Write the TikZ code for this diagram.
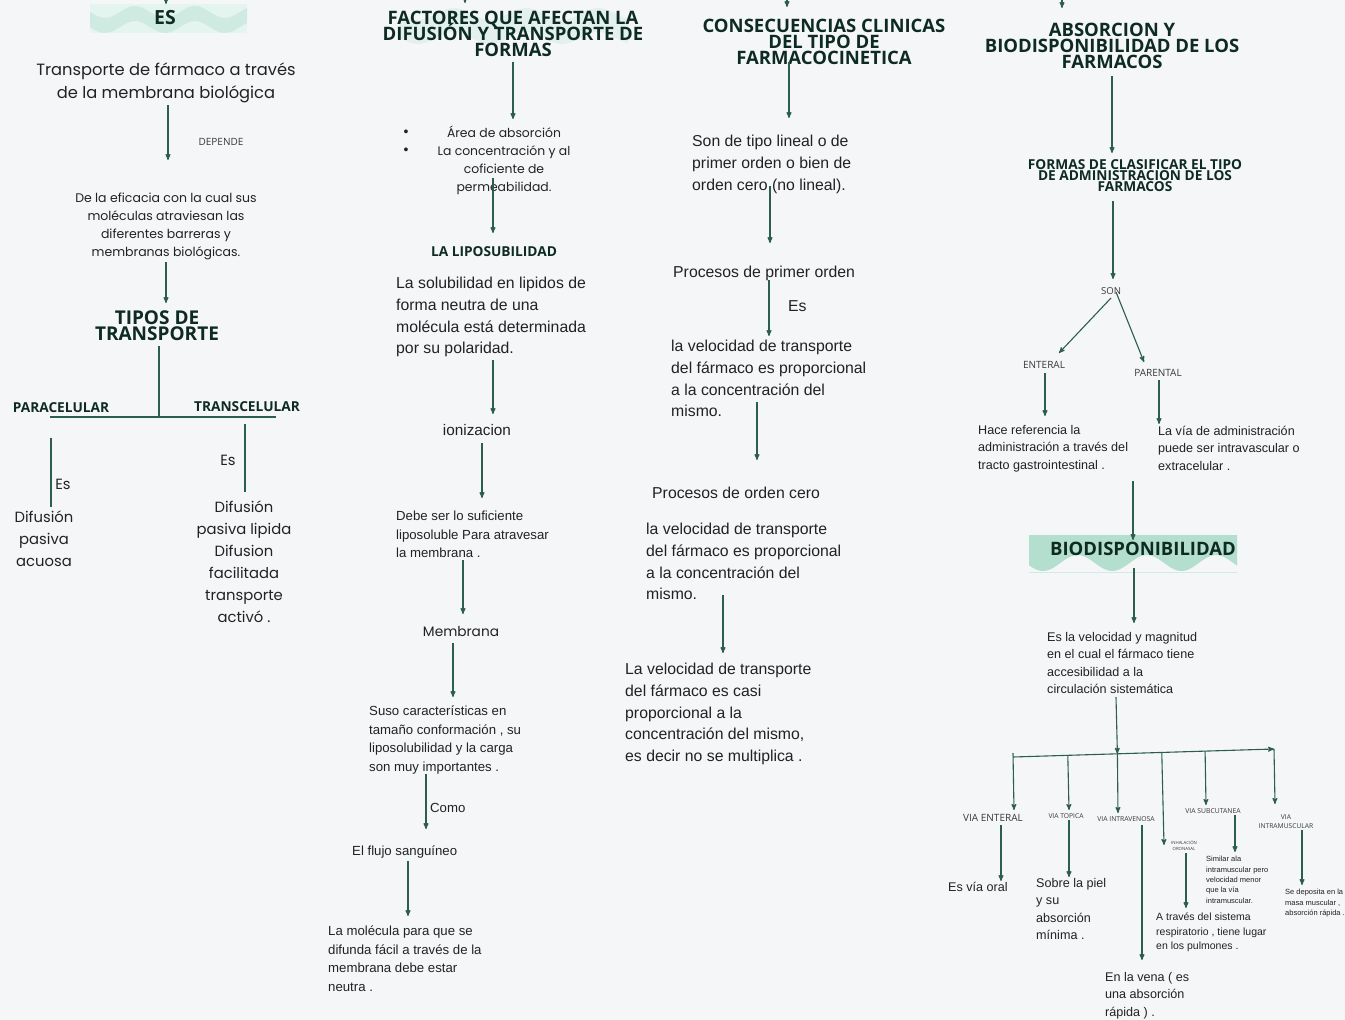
\documentclass[tikz,border=0pt]{standalone}
\usepackage{fontspec}
\setmainfont{Liberation Sans}
\newfontfamily\headfont{Open Sans}
\newfontfamily\popfont{Poppins}
\usetikzlibrary{arrows}
\definecolor{bgc}{RGB}{245,246,248}
\definecolor{lnc}{RGB}{44,94,78}
\definecolor{headc}{RGB}{14,43,33}
\definecolor{txtc}{RGB}{34,34,34}
\definecolor{mint}{RGB}{207,234,224}
\definecolor{mintd}{RGB}{180,222,206}
\lineskiplimit=-100pt
\tikzset{
  link/.style = {draw=lnc, line width=1.1pt},
  arr/.style = {link, ->, >=stealth'},
  head/.style = {font=\headfont\bfseries\fontsize{18.5}{16}\selectfont, text=headc,
    align=center, inner sep=0pt, anchor=north},
  sub/.style = {font=\headfont\bfseries\fontsize{13.7}{11}\selectfont, text=headc,
    align=center, inner sep=0pt},
  lab/.style = {font=\headfont\fontsize{#1}{#1}\selectfont, text=txtc!90,
    align=center, inner sep=0pt},
  lab/.default = 10,
  popL/.style = {font=\popfont\fontsize{16.3}{23}\selectfont, text=txtc,
    align=center, anchor=north, inner sep=0pt},
  popS/.style = {popL, font=\popfont\fontsize{12.5}{18}\selectfont},
  popD/.style = {popL, font=\popfont\fontsize{14.8}{22}\selectfont},
  mid/.style = {font=\fontsize{15.8}{21.7}\selectfont, text=txtc,
    align=left, anchor=north west, inner sep=0pt},
  sml/.style = {mid, font=\fontsize{13.2}{18.4}\selectfont},
  smlb/.style = {mid, font=\fontsize{12.6}{17.5}\selectfont},
  resp/.style = {mid, font=\fontsize{10.5}{14.5}\selectfont},
  tinyt/.style = {mid, font=\fontsize{7.5}{10.4}\selectfont},
  bul/.style = {font=\fontsize{14}{14}\selectfont, text=txtc, inner sep=0pt}}

\begin{document}
\begin{tikzpicture}[x=1pt,y=-1pt]
\fill[bgc] (0,0) rectangle (1345,1020);
\useasboundingbox (0,0) rectangle (1345,1020);

% bands behind titles
\begin{scope}
  \clip (90,4) rectangle (247,33);
  \fill[mint!55] (90,4) rectangle (247,33);
  \fill[mint] plot[domain=90:247,samples=60] (\x,{12+6*sin(6*(\x-90))})
    -- plot[domain=247:90,samples=60] (\x,{27+6*sin(6*(\x-90))}) -- cycle;
\end{scope}
\begin{scope}
  \clip (400,6) rectangle (628,46);
  \fill[mint, opacity=0.45] plot[domain=400:628,samples=70] (\x,{14+6*sin(5*(\x-400))})
    -- plot[domain=628:400,samples=70] (\x,{38+6*sin(5*(\x-400))}) -- cycle;
\end{scope}
\begin{scope}
  \clip (1029,535) rectangle (1237,573);
  \fill[mintd] (1029,535) -- (1237,535)
    -- plot[domain=1237:1029,samples=70] (\x,{563+8*cos(5.2*(\x-1043))}) -- cycle;
  \draw[mintd!60, line width=0.6pt] (1029,572) -- (1237,572);
\end{scope}

% column 1
\node[head, font=\headfont\bfseries\fontsize{19.5}{16}\selectfont] (es) at (165,10) {ES};
\node[popL] (transp) at (166,63) {Transporte de fármaco a través\\de la membrana biológica};
\node[lab] (dep) at (221,142) {DEPENDE};
\node[popS] (efic) at (166,193) {De la eficacia con la cual sus\\moléculas atraviesan las\\diferentes barreras y\\membranas biológicas.};
\node[head, font=\headfont\bfseries\fontsize{19}{16}\selectfont] (tipos) at (157,311) {TIPOS DE\\TRANSPORTE};
\node[sub] (para) at (61,408) {PARACELULAR};
\node[sub] (trans) at (247,407) {TRANSCELULAR};
\node[popD, anchor=center] (es1) at (63,484) {Es};
\node[popD, anchor=center] (es2) at (228,460) {Es};
\node[popD] (acuosa) at (44,511) {Difusión\\pasiva\\acuosa};
\node[popD] (lipida) at (244,501) {Difusión\\pasiva lipida\\Difusion\\facilitada\\transporte\\activó .};

\coordinate (inES) at (166,0);
\draw[arr] (inES) -- ([yshift=6pt]inES |- es.north);
\draw[arr] ([xshift=2pt,yshift=-42pt]transp.north) -- ([xshift=2pt,yshift=33pt]transp.north |- efic.north);
\draw[arr] ([yshift=-69pt]efic.north) -- ([yshift=8pt]efic.north |- tipos.north);
\coordinate (barL) at (50,417);
\coordinate (barR) at (276,417);
\draw[link] (barL) -- (barR);
\draw[link] ([xshift=2pt,yshift=-35pt]tipos.north) -- ([xshift=2pt]tipos.north |- barL);
\draw[link] ([xshift=-10pt,yshift=-30pt]para.center) -- ([xshift=-10pt,yshift=4pt]para.center |- acuosa.north);
\draw[link] ([xshift=-2pt,yshift=-17pt]trans.center) -- ([xshift=-2pt,yshift=9pt]trans.center |- lipida.north);

% column 2
\node[head] (factores) at (513,11) {FACTORES QUE AFECTAN LA\\DIFUSIÓN Y TRANSPORTE DE\\FORMAS};
\node[popS, font=\popfont\fontsize{12.4}{18}\selectfont] (areas) at (504,126) {Área de absorción\\La concentración y al\\coficiente de\\permeabilidad.};
\node[bul] (bul1) at (406,133) {•};
\node[bul] (bul2) at (406,151) {•};
\node[sub] (lipo) at (494,252) {LA LIPOSUBILIDAD};
\node[mid] (solub) at (396,277) {La solubilidad en lipidos de\\forma neutra de una\\molécula está determinada\\por su polaridad.};
\node[mid, anchor=center, font=\fontsize{15.3}{18}\selectfont] (ioniz) at (477,430) {ionizacion};
\node[sml] (debe) at (396,511) {Debe ser lo suficiente\\liposoluble Para atravesar\\la membrana .};
\node[popD, anchor=center, font=\popfont\fontsize{13.7}{18}\selectfont] (membr) at (461,631) {Membrana};
\node[sml] (suso) at (369,706) {Suso características en\\tamaño conformación , su\\liposolubilidad y la carga\\son muy importantes .};
\node[sml, anchor=west] (como) at (430,808) {Como};
\node[sml, anchor=west] (flujo) at (352,852) {El flujo sanguíneo};
\node[sml] (molec) at (328,926) {La molécula para que se\\difunda fácil a través de la\\membrana debe estar\\neutra .};

\coordinate (inFa) at (465,0);
\draw[arr] (inFa) -- ([yshift=8pt]inFa |- factores.north);
\draw[arr] ([yshift=-51pt]factores.north) -- ([yshift=7pt]factores.north |- areas.north);
\draw[arr] ([xshift=-11pt,yshift=-52pt]areas.north) -- ([xshift=-11pt,yshift=19pt]areas.north |- lipo.center);
\draw[arr] ([xshift=97pt,yshift=-83pt]solub.north west) -- ([xshift=97pt,yshift=16pt]solub.north west |- ioniz.center);
\draw[arr] ([xshift=5pt,yshift=-13pt]ioniz.center) -- ([xshift=5pt,yshift=13pt]ioniz.center |- debe.north west);
\draw[arr] ([xshift=67pt,yshift=-49pt]debe.north west) -- ([xshift=67pt,yshift=17pt]debe.north west |- membr.center);
\draw[arr] ([xshift=-8pt,yshift=-12pt]membr.center) -- ([xshift=-8pt,yshift=9pt]membr.center |- suso.north west);
\draw[arr] ([xshift=57pt,yshift=-68pt]suso.north west) -- ([xshift=57pt,yshift=23pt]suso.north west |- flujo.west);
\draw[arr] ([xshift=56pt,yshift=-9pt]flujo.west) -- ([xshift=56pt,yshift=10pt]flujo.west |- molec.north west);

% column 3
\node[head] (consec) at (824,19) {CONSECUENCIAS CLINICAS\\DEL TIPO DE\\FARMACOCINETICA};
\node[mid] (lineal) at (692,135) {Son de tipo lineal o de\\primer orden o bien de\\orden cero (no lineal).};
\node[mid, anchor=west] (primer) at (673,273) {Procesos de primer orden};
\node[mid, anchor=west] (es3) at (788,306) {Es};
\node[mid] (vel1) at (671,340) {la velocidad de transporte\\del fármaco es proporcional\\a la concentración del\\mismo.};
\node[mid, anchor=west] (cero) at (652,493) {Procesos de orden cero};
\node[mid] (vel2) at (646,523) {la velocidad de transporte\\del fármaco es proporcional\\a la concentración del\\mismo.};
\node[mid] (casi) at (625,663) {La velocidad de transporte\\del fármaco es casi\\proporcional a la\\concentración del mismo,\\es decir no se multiplica .};

\coordinate (inCo) at (787,0);
\draw[arr] (inCo) -- ([yshift=12pt]inCo |- consec.north);
\draw[arr] ([xshift=-35pt,yshift=-43pt]consec.north) -- ([xshift=-35pt,yshift=17pt]consec.north |- lineal.north west);
\draw[arr] ([xshift=78pt,yshift=-51pt]lineal.north west) -- ([xshift=78pt,yshift=30pt]lineal.north west |- primer.west);
\draw[arr] ([xshift=96pt,yshift=-7pt]primer.west) -- ([xshift=96pt,yshift=4pt]primer.west |- vel1.north west);
\draw[arr] ([xshift=86pt,yshift=-62pt]vel1.north west) -- ([xshift=86pt,yshift=33pt]vel1.north west |- cero.west);
\draw[arr] ([xshift=77pt,yshift=-72pt]vel2.north west) -- ([xshift=77pt,yshift=10pt]vel2.north west |- casi.north west);

% column 4
\node[head] (absor) at (1112,23) {ABSORCION Y\\BIODISPONIBILIDAD DE LOS\\FARMACOS};
\node[sub, anchor=north] (formas) at (1135,159) {FORMAS DE CLASIFICAR EL TIPO\\DE ADMINISTRACION DE LOS\\FARMACOS};
\node[lab=9.6] (son) at (1111,291) {SON};
\node[lab] (enteral) at (1044,365) {ENTERAL};
\node[lab] (parental) at (1158,373) {PARENTAL};
\node[smlb] (hace) at (978,425) {Hace referencia la\\administración a través del\\tracto gastrointestinal .};
\node[smlb] (lavia) at (1158,426) {La vía de administración\\puede ser intravascular o\\extracelular .};
\node[head, anchor=center] (bio) at (1143,549) {BIODISPONIBILIDAD};
\node[smlb] (esvel) at (1047,632) {Es la velocidad y magnitud\\en el cual el fármaco tiene\\accesibilidad a la\\circulación sistemática};

\node[lab] (venteral) at (993,818) {VIA ENTERAL};
\node[lab=6.7] (vtopica) at (1066,816) {VIA TOPICA};
\node[lab=6.8] (vintra) at (1126,819) {VIA INTRAVENOSA};
\node[lab, font=\headfont\fontsize{4.3}{6}\selectfont] (vinhal) at (1184,846) {INHALACIÓN\\ORONASAL};
\node[lab=6.8] (vsubc) at (1213,811) {VIA SUBCUTANEA};
\node[lab, font=\headfont\fontsize{6.7}{9}\selectfont] (vintram) at (1286,822) {VIA\\INTRAMUSCULAR};
\node[smlb, anchor=west] (oral) at (948,887) {Es vía oral};
\node[smlb] (piel) at (1036,878) {Sobre la piel\\y su\\absorción\\mínima .};
\node[smlb] (vena) at (1105,972) {En la vena ( es\\una absorción\\rápida ) .};
\node[resp] (resp) at (1156,913) {A través del sistema\\respiratorio , tiene lugar\\en los pulmones .};
\node[tinyt] (simil) at (1206,856) {Similar ala\\intramuscular pero\\velocidad menor\\que la vía\\intramuscular.};
\node[tinyt] (depos) at (1285,889) {Se deposita en la\\masa muscular ,\\absorción rápida .};

\coordinate (inAb) at (1062,0);
\draw[arr] (inAb) -- ([yshift=15pt]inAb |- absor.north);
\draw[arr] ([yshift=-53pt]absor.north) -- ([yshift=6pt]absor.north |- formas.north);
\draw[arr] ([xshift=-22pt,yshift=-42pt]formas.north) -- ([xshift=-22pt,yshift=12pt]formas.north |- son.center);
\draw[arr] ([yshift=-7pt]son.center) -- ([xshift=15pt,yshift=12pt]enteral.center);
\draw[arr] ([xshift=5pt,yshift=-1pt]son.center) -- ([xshift=-14pt,yshift=11pt]parental.center);
\draw[arr] ([xshift=1pt,yshift=-8pt]enteral.center) -- ([xshift=1pt,yshift=9pt]enteral.center |- hace.north west);
\draw[arr] ([xshift=1pt,yshift=-7pt]parental.center) -- ([xshift=1pt,yshift=2pt]parental.center |- lavia.north west);
\draw[arr] ([xshift=155pt,yshift=-56pt]hace.north west) -- ([xshift=155pt,yshift=9pt]hace.north west |- bio.center);
\draw[arr] ([xshift=-9pt,yshift=-19pt]bio.center) -- ([xshift=-9pt,yshift=9pt]bio.center |- esvel.north west);

% bar of the vias
\coordinate (bl) at (1013,757);
\coordinate (br) at (1274,749);
\draw[arr] (bl) -- coordinate[pos=0.21] (b2) coordinate[pos=0.4] (b3)
  coordinate[pos=0.57] (b4) coordinate[pos=0.736] (b5) (br);
\draw[arr] ([xshift=69pt,yshift=-65pt]esvel.north west) -- (b3);
\draw[arr] ([yshift=4pt]bl) -- ([xshift=21pt,yshift=8pt]venteral.center);
\draw[arr] (b2) -- ([xshift=3pt,yshift=6pt]vtopica.center);
\draw[arr] (b3) -- ([xshift=-8pt,yshift=6pt]vintra.center);
\draw[arr] (b4) -- ([xshift=-20pt,yshift=1pt]vinhal.center);
\draw[arr] (b5) -- ([xshift=-7pt,yshift=6pt]vsubc.center);
\draw[arr] (br) -- ([xshift=-11pt,yshift=18pt]vintram.center);

\draw[arr] ([xshift=8pt,yshift=-7pt]venteral.center) -- ([xshift=8pt,yshift=6pt]venteral.center |- oral.west);
\draw[arr] ([xshift=3pt,yshift=-4pt]vtopica.center) -- ([xshift=3pt,yshift=1pt]vtopica.center |- piel.north west);
\draw[arr] ([xshift=16pt,yshift=-6pt]vintra.center) -- ([xshift=16pt,yshift=12pt]vintra.center |- vena.north west);
\draw[arr] ([xshift=2pt,yshift=-7pt]vinhal.center) -- ([xshift=2pt,yshift=5pt]vinhal.center |- resp.north west);
\draw[arr] ([xshift=22pt,yshift=-4pt]vsubc.center) -- ([xshift=22pt,yshift=4pt]vsubc.center |- simil.north west);
\draw[arr] ([xshift=16pt,yshift=-8pt]vintram.center) -- ([xshift=16pt,yshift=4pt]vintram.center |- depos.north west);
\end{tikzpicture}
\end{document}
